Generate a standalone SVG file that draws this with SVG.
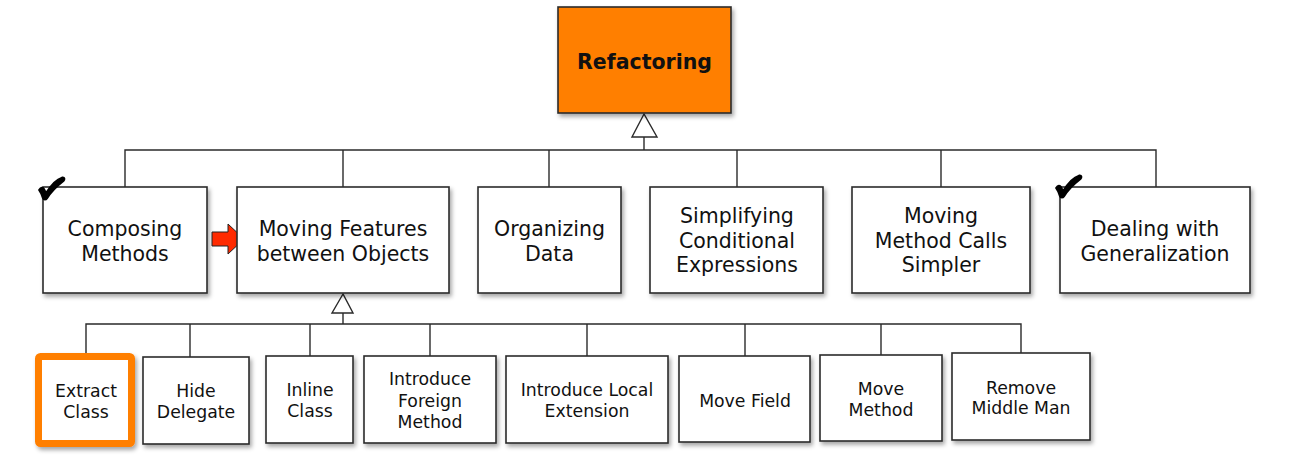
<svg xmlns="http://www.w3.org/2000/svg" width="1304" height="474" viewBox="0 0 1304 474">
<style>
.box{fill:#fff;stroke:#2a2a2a;stroke-width:1.6;filter:url(#sh)}
.t2{font-family:"DejaVu Sans",Verdana,sans-serif;font-size:20.5px;fill:#111;text-anchor:middle}
.t3{font-family:"DejaVu Sans",Verdana,sans-serif;font-size:17.3px;fill:#111;text-anchor:middle}
.ln{fill:none;stroke:#2a2a2a;stroke-width:1.4}
.tri{fill:#fff;stroke:#2a2a2a;stroke-width:1.4}
.chk{fill:#000;stroke:#000;stroke-width:1.8;stroke-linejoin:round}
</style>
<defs>
<filter id="sh" x="-10%" y="-10%" width="125%" height="130%">
<feDropShadow dx="2" dy="3" stdDeviation="2" flood-color="#000" flood-opacity="0.35"/>
</filter>
<path id="check" d="M1,13 C3,10 5,10 6,12 L8,16 C13,8 19,2 24,0.5 C27,0 27,2.5 25.5,4 C19,9 13,15 9,21.5 C8,23 5.5,23 5,21.5 C4,18 2.5,15 1,13 Z"/>
</defs>
<rect width="1304" height="474" fill="#fff"/>

<g id="connectors">
<polyline class="ln" points="644,137 644,150"/>
<polyline class="ln" points="125,187 125,150 1156,150 1156,187"/>
<line class="ln" x1="343" y1="150" x2="343" y2="187"/>
<line class="ln" x1="549" y1="150" x2="549" y2="187"/>
<line class="ln" x1="737" y1="150" x2="737" y2="187"/>
<line class="ln" x1="941" y1="150" x2="941" y2="187"/>
<polygon class="tri" points="644,114 632,137 657,137"/>
<polyline class="ln" points="343,313 343,324"/>
<polyline class="ln" points="86,353 86,324 1021,324 1021,353"/>
<line class="ln" x1="190" y1="324" x2="190" y2="357"/>
<line class="ln" x1="310" y1="324" x2="310" y2="356"/>
<line class="ln" x1="430" y1="324" x2="430" y2="356"/>
<line class="ln" x1="587" y1="324" x2="587" y2="356"/>
<line class="ln" x1="745" y1="324" x2="745" y2="356"/>
<line class="ln" x1="881" y1="324" x2="881" y2="355"/>
<polygon class="tri" points="343,294 332,313 353,313"/>
</g>

<g id="refactoring">
<rect x="558" y="7" width="173" height="106" fill="#FF7F00" stroke="#2a2a2a" stroke-width="1.6" filter="url(#sh)"/>
<text x="644.5" y="69" font-family="'DejaVu Sans',Verdana,sans-serif" font-size="20.5" font-weight="bold" text-anchor="middle" fill="#111">Refactoring</text>
</g>

<g id="composing-methods">
<rect class="box" x="43" y="187" width="164" height="106"/>
<text class="t2" x="125" y="236">Composing</text>
<text class="t2" x="125" y="261">Methods</text>
<use href="#check" class="chk" x="38" y="177"/>
</g>

<g id="red-arrow">
<polygon points="212,232 228,232 228,224 244,239 228,254 228,246 212,246" fill="#FF2A00" stroke="#222" stroke-width="1"/>
</g>

<g id="moving-features">
<rect class="box" x="237" y="187" width="212" height="106"/>
<text class="t2" x="343" y="236">Moving Features</text>
<text class="t2" x="343" y="261">between Objects</text>
</g>

<g id="organizing-data">
<rect class="box" x="478" y="187" width="143" height="106"/>
<text class="t2" x="549.5" y="236">Organizing</text>
<text class="t2" x="549.5" y="261">Data</text>
</g>

<g id="simplifying-conditional">
<rect class="box" x="650" y="187" width="173" height="106"/>
<text class="t2" x="737" y="223">Simplifying</text>
<text class="t2" x="737" y="248">Conditional</text>
<text class="t2" x="737" y="272">Expressions</text>
</g>

<g id="moving-method-calls">
<rect class="box" x="852" y="187" width="178" height="106"/>
<text class="t2" x="941" y="223">Moving</text>
<text class="t2" x="941" y="248">Method Calls</text>
<text class="t2" x="941" y="272">Simpler</text>
</g>

<g id="dealing-generalization">
<rect class="box" x="1060" y="187" width="190" height="106"/>
<text class="t2" x="1155" y="236">Dealing with</text>
<text class="t2" x="1155" y="261">Generalization</text>
<use href="#check" class="chk" x="1055" y="175"/>
</g>

<g id="extract-class">
<rect x="38.5" y="356.5" width="93" height="87" rx="2" fill="#fff" stroke="#FF7F00" stroke-width="7" filter="url(#sh)"/>
<text class="t3" x="86" y="397">Extract</text>
<text class="t3" x="86" y="418">Class</text>
</g>

<g id="hide-delegate">
<rect class="box" x="143" y="357" width="106" height="87"/>
<text class="t3" x="196" y="397">Hide</text>
<text class="t3" x="196" y="418">Delegate</text>
</g>

<g id="inline-class">
<rect class="box" x="266" y="356" width="87" height="87"/>
<text class="t3" x="310" y="396">Inline</text>
<text class="t3" x="310" y="417">Class</text>
</g>

<g id="introduce-foreign-method">
<rect class="box" x="364" y="356" width="132" height="87"/>
<text class="t3" x="430" y="385">Introduce</text>
<text class="t3" x="430" y="407">Foreign</text>
<text class="t3" x="430" y="428">Method</text>
</g>

<g id="introduce-local-extension">
<rect class="box" x="506" y="356" width="162" height="87"/>
<text class="t3" x="587" y="396">Introduce Local</text>
<text class="t3" x="587" y="417">Extension</text>
</g>

<g id="move-field">
<rect class="box" x="679" y="356" width="131" height="86"/>
<text class="t3" x="745" y="407">Move Field</text>
</g>

<g id="move-method">
<rect class="box" x="820" y="355" width="122" height="86"/>
<text class="t3" x="881" y="395">Move</text>
<text class="t3" x="881" y="416">Method</text>
</g>

<g id="remove-middle-man">
<rect class="box" x="952" y="353" width="138" height="87"/>
<text class="t3" x="1021" y="394">Remove</text>
<text class="t3" x="1021" y="414">Middle Man</text>
</g>
</svg>
